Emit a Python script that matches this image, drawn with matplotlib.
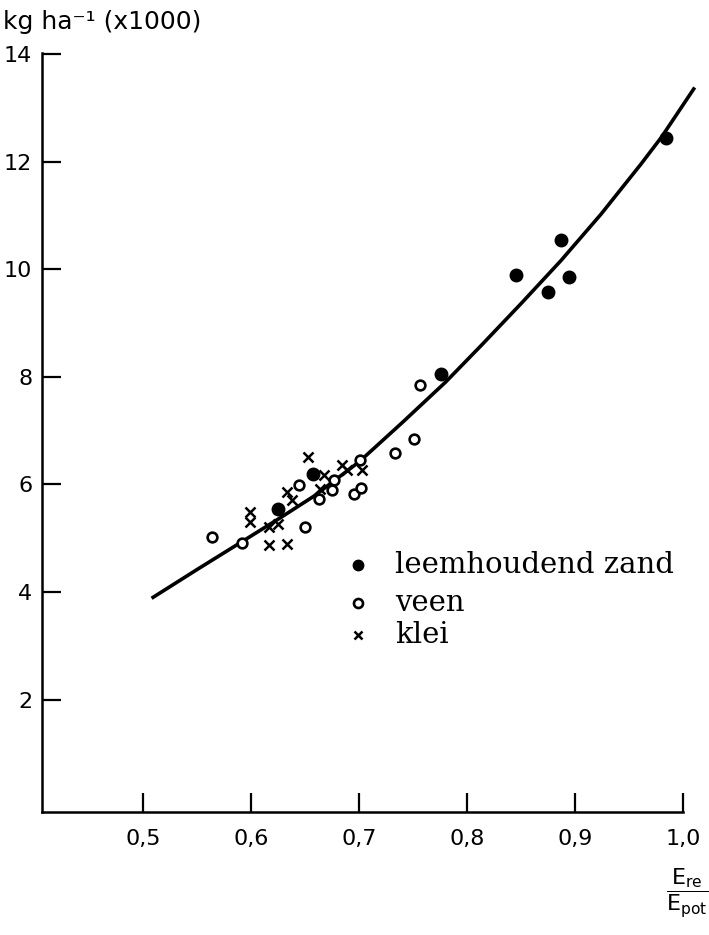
import matplotlib
matplotlib.use('Agg')
import matplotlib.pyplot as plt

# leemhoudend zand (gevulde punten)
zand_x = [0.984, 0.887, 0.845, 0.894, 0.875, 0.776, 0.657, 0.625]
zand_y = [12.43, 10.55, 9.90, 9.86, 9.58, 8.05, 6.19, 5.55]

# veen (open cirkels)
veen_x = [0.564, 0.591, 0.650, 0.644, 0.663, 0.675, 0.677, 0.695, 0.702, 0.701, 0.733, 0.751, 0.756]
veen_y = [5.02, 4.91, 5.21, 5.99, 5.72, 5.89, 6.09, 5.82, 5.94, 6.46, 6.59, 6.85, 7.84]

# klei (kruisjes)
klei_x = [0.653, 0.667, 0.616, 0.625, 0.616, 0.633, 0.633, 0.638, 0.684, 0.689, 0.703, 0.664, 0.599, 0.599]
klei_y = [6.51, 6.17, 5.21, 5.27, 4.87, 4.90, 5.86, 5.71, 6.36, 6.26, 6.26, 5.92, 5.49, 5.30]

# regressiecurve
curve_x = [0.509, 0.55, 0.591, 0.627, 0.658, 0.70, 0.74, 0.78, 0.813, 0.85, 0.887, 0.924, 0.961, 0.98, 1.01]
curve_y = [3.90, 4.42, 4.93, 5.38, 5.78, 6.42, 7.15, 7.90, 8.58, 9.36, 10.16, 11.02, 11.95, 12.45, 13.35]

x_ticks = [0.5, 0.6, 0.7, 0.8, 0.9, 1.0]
x_labels = ['0,5', '0,6', '0,7', '0,8', '0,9', '1,0']
y_ticks = [2, 4, 6, 8, 10, 12, 14]

fig = plt.figure(figsize=(7.09, 9.35), dpi=100)
ax = fig.add_axes([0.0592, 0.1316, 0.904, 0.8118])

ax.plot(curve_x, curve_y, color='black', lw=2.6, clip_on=False)
ax.plot(zand_x, zand_y, 'o', color='black', ms=9, clip_on=False)
ax.plot(veen_x, veen_y, 'o', mfc='white', mec='black', mew=1.9, ms=7, clip_on=False)
ax.plot(klei_x, klei_y, 'x', color='black', mew=1.8, ms=7.5, clip_on=False)

ax.set_xlim(0.406, 1.0)
ax.set_ylim(-0.09, 14.02)
for s in ['top', 'right']:
    ax.spines[s].set_visible(False)
for s in ['left', 'bottom']:
    ax.spines[s].set_linewidth(1.8)

ax.set_xticks(x_ticks)
ax.set_xticklabels(x_labels)
ax.set_yticks(y_ticks)
ax.tick_params(axis='both', direction='in', length=14, width=1.6, labelsize=16)
ax.tick_params(axis='x', pad=12)
ax.tick_params(axis='y', pad=7)

# legenda als losse tekst
leg_font = dict(family='DejaVu Serif', fontsize=21, va='center')
ax.plot([0.699], [4.50], 'o', color='black', ms=7.5, clip_on=False)
ax.text(0.733, 4.50, 'leemhoudend zand', **leg_font)
ax.plot([0.699], [3.80], 'o', mfc='white', mec='black', mew=1.9, ms=6.5, clip_on=False)
ax.text(0.733, 3.80, 'veen', **leg_font)
ax.plot([0.699], [3.20], 'x', color='black', mew=1.8, ms=6, clip_on=False)
ax.text(0.733, 3.20, 'klei', **leg_font)

fig.text(3 / 709, 1 - 29 / 935, 'kg ha\u207b\u00b9 (x1000)', fontsize=18, ha='left', va='baseline')
fig.text(687 / 709, 1 - 893 / 935, r'$\dfrac{\mathsf{E}_{\mathsf{re}}}{\mathsf{E}_{\mathsf{pot}}}$',
         fontsize=16, ha='center', va='center')

fig.savefig('out.png', dpi=100)
